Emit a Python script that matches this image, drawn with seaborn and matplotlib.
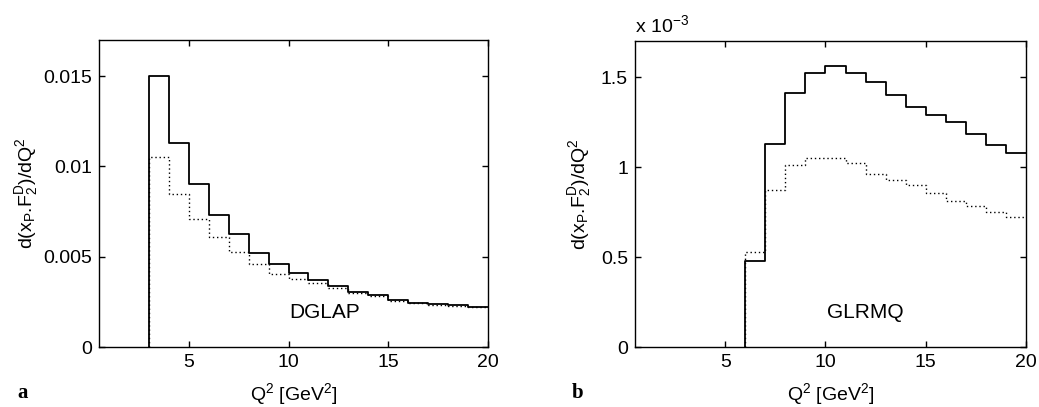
import matplotlib
matplotlib.use("Agg")
import matplotlib.pyplot as plt
import seaborn as sns
import numpy as np
import pandas as pd

# ---- data ----
edges_a = list(range(3, 21))                      # bin edges, panel a
dglap_solid = [0.0150, 0.0113, 0.00902, 0.00732, 0.00624, 0.00522, 0.00461,
               0.00411, 0.00371, 0.00337, 0.00305, 0.00287, 0.00259, 0.00245,
               0.00237, 0.00230, 0.00222]
dglap_dotted = [0.01054, 0.00848, 0.00708, 0.00611, 0.00524, 0.00459, 0.00407,
                0.00374, 0.00352, 0.00328, 0.00298, 0.00280, 0.00252, 0.00242,
                0.00232, 0.00227, 0.00221]

edges_b = list(range(6, 21))                      # bin edges, panel b
glrmq_solid = [0.476, 1.126, 1.411, 1.521, 1.563, 1.521, 1.471, 1.398, 1.333,
               1.289, 1.248, 1.185, 1.120, 1.078]          # x 1e-3
glrmq_dotted = [0.528, 0.871, 1.011, 1.050, 1.050, 1.020, 0.963, 0.930, 0.902,
                0.856, 0.811, 0.782, 0.748, 0.720]         # x 1e-3

xticks = [5, 10, 15, 20]
yticks_a = [0, 0.005, 0.01, 0.015]
yticklabels_a = ["0", "0.005", "0.01", "0.015"]
yticks_b = [0, 0.5, 1, 1.5]
yticklabels_b = ["0", "0.5", "1", "1.5"]


def step_frame(edges, vals):
    x = [edges[0]] + list(edges)
    y = [0.0] + list(vals) + [vals[-1]]
    return pd.DataFrame({"x": x, "y": y})


sns.set_style("white")
plt.rcParams["font.family"] = ["Liberation Sans", "DejaVu Sans"]
plt.rcParams["mathtext.fontset"] = "custom"
plt.rcParams["mathtext.rm"] = "Liberation Sans"
plt.rcParams["mathtext.it"] = "Liberation Sans"
plt.rcParams["text.color"] = "black"
plt.rcParams["axes.labelcolor"] = "black"
plt.rcParams["xtick.color"] = "black"
plt.rcParams["ytick.color"] = "black"

fig = plt.figure(figsize=(10.39, 4.07), dpi=100)
ax_a = fig.add_axes([99 / 1039, 60 / 407, 389 / 1039, 307 / 407])
ax_b = fig.add_axes([635 / 1039, 60 / 407, 391 / 1039, 306 / 407])

ylab = r"d(x$_\mathregular{P}$.F$_\mathregular{2}^\mathregular{D}$)/dQ$^\mathregular{2}$"
xlab = r"Q$^\mathregular{2}$ [GeV$^\mathregular{2}$]"

for ax, edges, s, d, yl, yt, ytl, lp in [
    (ax_a, edges_a, dglap_solid, dglap_dotted, (0, 0.017), yticks_a, yticklabels_a, 2),
    (ax_b, edges_b, glrmq_solid, glrmq_dotted, (0, 1.7), yticks_b, yticklabels_b, 6),
]:
    sns.lineplot(data=step_frame(edges, d), x="x", y="y", ax=ax, estimator=None,
                 sort=False, drawstyle="steps-post", color="black",
                 linestyle=(0, (1, 2)), linewidth=1.0)
    sns.lineplot(data=step_frame(edges, s), x="x", y="y", ax=ax, estimator=None,
                 sort=False, drawstyle="steps-post", color="black",
                 linewidth=1.3)
    ax.set_xlim(0.5, 20)
    ax.set_ylim(*yl)
    ax.set_xticks(xticks)
    ax.set_xticklabels([str(t) for t in xticks])
    ax.set_yticks(yt)
    ax.set_yticklabels(ytl)
    ax.tick_params(direction="in", length=4, width=1, top=True, right=True,
                   bottom=True, left=True, labelsize=14, colors="black", pad=5)
    for sp in ax.spines.values():
        sp.set_color("black")
        sp.set_linewidth(1.0)
    ax.set_xlabel(xlab, fontsize=14, labelpad=7, color="black")
    ax.set_ylabel(ylab, fontsize=14, labelpad=lp, color="black")

ax_a.text(10.05, 0.0019, "DGLAP", fontsize=15, va="center", ha="left", color="black")
ax_b.text(10.08, 0.193, "GLRMQ", fontsize=15, va="center", ha="left", color="black")
ax_b.text(0.0, 1.015, r"x 10$^\mathregular{-3}$", transform=ax_b.transAxes,
          fontsize=14, ha="left", va="bottom", color="black")

fig.text(17 / 1039, 1 - 393 / 407, "a", fontsize=15, fontweight="bold",
         family="Liberation Serif", va="center", ha="left", color="black")
fig.text(572 / 1039, 1 - 393 / 407, "b", fontsize=15, fontweight="bold",
         family="Liberation Serif", va="center", ha="left", color="black")

fig.savefig("out.png", dpi=100, facecolor="white")
